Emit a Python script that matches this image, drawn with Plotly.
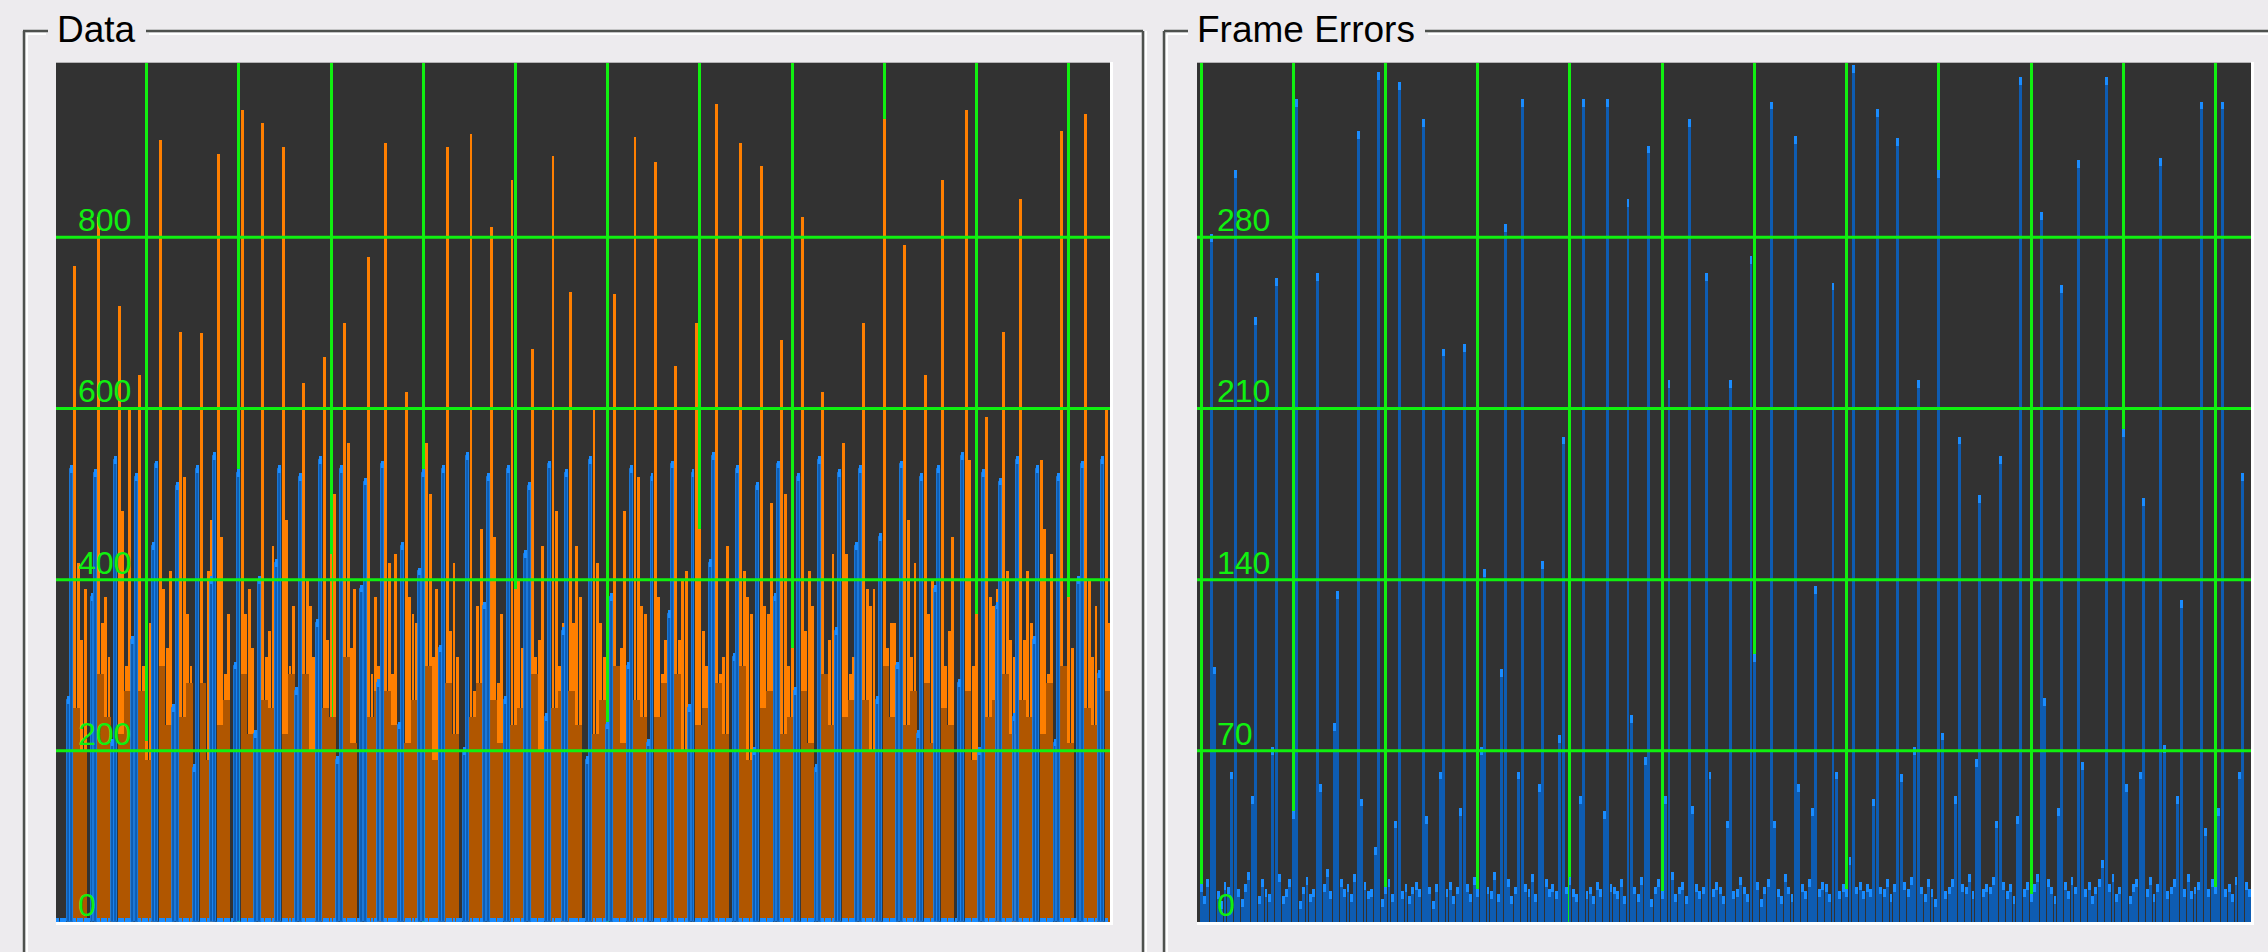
import plotly.graph_objects as go

W, H = 2268, 952

# ======================= data =======================
data_yticks = [0, 200, 400, 600, 800]
fe_yticks = [0, 70, 140, 210, 280]
n_samples = 309

# ---- "Data" panel, one entry per frame ----
data_pos = [6, 13, 19, 25, 31, 37, 43, 48, 55, 61, 67, 73, 79, 85, 92, 97, 103, 109, 115, 122,
            128, 134, 140, 146, 151, 158, 164, 170, 176, 182, 188, 194, 201, 207, 213, 219, 225,
            231, 237, 243, 249, 255, 260, 267, 273, 278, 283, 289, 295, 302, 308]
data_orange_tall = [767, 824, 720, 640, 914, 690, 688, 898, 949, 934, 906, 630, 660, 700, 777,
                    910, 620, 560, 906, 921, 812, 867, 670, 895, 737, 600, 734, 917, 888, 650,
                    700, 956, 911, 884, 680, 824, 620, 560, 700, 938, 791, 640, 867, 949, 590,
                    690, 845, 540, 924, 945, 600]
data_orange_mid_a = [420, 350, 480, 300, 390, 520, 280, 450, 360, 310, 470, 400, 330, 560, 290,
                     420, 380, 500, 340, 270, 450, 390, 310, 480, 350, 420, 300, 520, 380, 330,
                     460, 290, 410, 370, 500, 340, 280, 430, 390, 320, 470, 360, 300, 540, 380,
                     410, 330, 460, 290, 400, 350]
data_orange_mid_b = [330, 380, 300, 212, 320, 360, 410, 290, 390, 340, 300, 370, 430, 320, 380,
                     290, 360, 310, 420, 370, 280, 400, 330, 300, 440, 350, 320, 370, 290, 400,
                     340, 310, 380, 360, 300, 410, 330, 290, 370, 350, 310, 400, 340, 300, 370,
                     330, 410, 290, 380, 310, 350]
data_orange_mid_c = [390, 310, 600, 350, 410, 300, 470, 360, 320, 440, 370, 310, 500, 390, 300,
                     430, 350, 390, 310, 460, 360, 320, 440, 350, 380, 310, 480, 360, 330, 410,
                     300, 440, 360, 490, 320, 370, 430, 310, 390, 350, 420, 310, 450, 360, 390,
                     310, 350, 430, 320, 370, 350]
data_body_1 = [250, 290, 220, 270, 300, 240, 280, 230, 290, 260, 220, 290, 250, 310, 240, 270,
               210, 300, 280, 240, 260, 230, 290, 250, 270, 220, 300, 260, 240, 290, 230, 280,
               300, 250, 220, 270, 290, 240, 260, 300, 230, 280, 250, 270, 240, 290, 260, 220,
               300, 250, 270]
data_body_2 = [200, 240, 270, 190, 230, 280, 190, 260, 220, 250, 290, 200, 240, 210, 270, 230,
               260, 190, 220, 280, 210, 250, 200, 270, 230, 260, 210, 240, 280, 200, 250, 220,
               190, 270, 240, 210, 230, 260, 200, 240, 270, 210, 230, 190, 260, 220, 240, 280,
               210, 230, 250]
data_blue_tall = [530, 525, 540, 520, 535, 510, 530, 545, 525, 400, 530, 520, 540, 530, 515, 535,
                  440, 525, 530, 545, 520, 530, 510, 535, 525, 540, 380, 530, 520, 535, 525, 545,
                  530, 510, 535, 520, 540, 525, 530, 450, 535, 520, 530, 545, 525, 515, 540, 530,
                  520, 535, 540]
data_blue_second = [260, 380, 210, 330, 440, 250, 180, 400, 300, 220, 420, 270, 350, 190, 390,
                    280, 230, 410, 320, 200, 370, 260, 430, 240, 340, 190, 230, 300, 210, 360,
                    250, 420, 310, 200, 380, 270, 180, 340, 440, 260, 300, 220, 390, 280, 200,
                    370, 240, 330, 210, 400, 290]

# ---- "Frame Errors" panel ----
fe_pos = [3, 10, 16, 22, 28, 34, 40, 46, 52, 58, 65, 71, 77, 83, 89, 94, 100, 106, 112, 119,
          125, 131, 137, 143, 148, 155, 161, 167, 174, 180, 185, 191, 198, 204, 210, 216, 222,
          228, 234, 240, 246, 252, 257, 265, 270, 276, 281, 287, 293, 299, 305]
fe_tall = [280, 306, 246, 262, 335, 264, 134, 322, 346, 342, 327, 233, 235, 143, 284, 335, 146,
           197, 335, 335, 294, 316, 220, 327, 264, 220, 271, 334, 320, 136, 260, 349, 331, 319,
           220, 306, 197, 173, 189, 344, 289, 259, 310, 344, 200, 172, 311, 130, 334, 334, 182]
fe_second_pos = [4, 9, 15, 21, 27, 35, 39, 47, 51, 57, 66, 70, 76, 82, 88, 93, 99, 105, 111, 118,
                 126, 130, 136, 144, 149, 154, 162, 168, 175, 179, 186, 190, 197, 205, 209, 217,
                 221, 227, 233, 239, 247, 251, 258, 264, 271, 275, 282, 286, 294, 298, 304]
fe_second = [103, 60, 50, 70, 44, 55, 80, 49, 29, 40, 42, 60, 45, 70, 102, 60, 55, 75, 50, 44,
             83, 66, 50, 46, 60, 40, 108, 40, 55, 45, 60, 25, 49, 59, 70, 76, 50, 65, 40, 42,
             90, 45, 64, 24, 55, 60, 71, 50, 37, 45, 60]
fe_noise = [
    14, 9, 16, 12, 18, 11, 7, 15, 13, 10, 17, 12, 8, 14, 19, 11, 13, 9, 16, 12,
    10, 15, 13, 18, 9, 12, 16, 11, 14, 7, 13, 17, 10, 12, 15, 9, 14, 20, 11, 13,
    8, 16, 12, 14, 10, 18, 13, 9, 15, 11, 12, 17, 14, 8, 13, 16, 10, 12, 19, 11,
    14, 9, 13, 15, 12, 10, 16, 13, 7, 14, 11, 18, 12, 15, 9, 13, 16, 11, 14, 10,
    17, 12, 8, 15, 13, 11, 19, 10, 14, 12, 16, 9, 13, 15, 11, 14, 12, 18, 10, 13,
    9, 16, 12, 14, 11, 15, 8, 13, 17, 12, 10, 14, 16, 11, 13, 9, 15, 12, 18, 10,
    14, 13, 11, 16, 9, 12, 15, 13, 10, 17, 12, 14, 8, 13, 16, 11, 14, 12, 19, 10,
    13, 15, 9, 12, 16, 14, 11, 13, 18, 10, 12, 15, 13, 9, 14, 16, 11, 12, 17, 13,
    10, 14, 12, 15, 8, 13, 16, 11, 14, 12, 9, 18, 13, 10, 15, 12, 14, 11, 16, 13,
    9, 12, 15, 14, 10, 17, 13, 11, 14, 12, 16, 9, 13, 15, 11, 14, 12, 10, 18, 13,
    12, 16, 10, 14, 13, 9, 15, 12, 17, 11, 14, 13, 10, 16, 12, 8, 14, 15, 11, 13,
    16, 12, 10, 14, 13, 18, 11, 9, 15, 12, 14, 13, 17, 10, 12, 15, 11, 14, 9, 16,
    13, 12, 15, 10, 14, 18, 12, 11, 16, 13, 9, 14, 12, 15, 11, 17, 13, 10, 14, 12,
    15, 9, 13, 16, 12, 11, 14, 18, 10, 13, 15, 12, 9, 14, 16, 11, 13, 12, 17, 10,
    14, 12, 15, 11, 13, 16, 9, 14, 12, 18, 11, 13, 15, 10, 14, 12, 16, 13, 11, 15,
    12, 14, 10, 17, 13, 9, 15, 12, 14]

# ======================= style =======================
BG = "#edebee"
PLOT_BG = "#323232"
GRID = "#10f010"
ORANGE = "#ff7f00"
ORANGE_DARK = "#b05600"
BLUE = "#1a8cff"
BLUE_DARK = "#0e5cb2"
FRAME_DARK = "#4e514e"
STEM_W = 0.85
TIP_L = 9.0      # data-panel units
TIP_R = 3.2      # frame-error-panel units

fig = go.Figure()

# ---------- Data panel ----------
ox, oy = [], []
for p, t, a, b, c in zip(data_pos, data_orange_tall, data_orange_mid_a,
                         data_orange_mid_b, data_orange_mid_c):
    ox += [p, p + 1, p + 2, p + 3]
    oy += [t, a, b, c]
fig.add_trace(go.Bar(x=ox, y=oy, width=STEM_W, marker=dict(color=ORANGE, line_width=0),
                     xaxis="x", yaxis="y"))
bx, by = [], []
for p, b1, b2 in zip(data_pos, data_body_1, data_body_2):
    bx += [p + 0.5, p + 2.5]
    by += [b1, b2]
fig.add_trace(go.Bar(x=bx, y=by, width=2.0, marker=dict(color=ORANGE_DARK, line_width=0),
                     xaxis="x", yaxis="y"))

blue_vals = [0] * n_samples
for p, v in zip(data_pos, data_blue_second):
    if 0 <= p - 2 < n_samples:
        blue_vals[p - 2] = v
for p, v in zip(data_pos, data_blue_tall):
    if 0 <= p - 1 < n_samples:
        blue_vals[p - 1] = v
sx = list(range(n_samples))
fig.add_trace(go.Bar(x=sx, y=blue_vals, width=STEM_W,
                     marker=dict(color=BLUE_DARK, line=dict(color=BLUE, width=0.8)),
                     xaxis="x", yaxis="y"))
fig.add_trace(go.Bar(x=sx, y=[TIP_L] * n_samples, base=[v - TIP_L / 2 for v in blue_vals],
                     width=STEM_W, marker=dict(color=BLUE, line_width=0), xaxis="x", yaxis="y"))

# ---------- Frame Errors panel ----------
fe_vals = list(fe_noise)
for p, v in zip(fe_second_pos, fe_second):
    if 0 <= p < len(fe_vals):
        fe_vals[p] = max(fe_vals[p], v)
for p, v in zip(fe_pos, fe_tall):
    if 0 <= p < len(fe_vals):
        fe_vals[p] = max(fe_vals[p], v)
fx = list(range(len(fe_vals)))
fig.add_trace(go.Bar(x=fx, y=fe_vals, width=STEM_W, marker=dict(color=BLUE_DARK, line_width=0),
                     xaxis="x2", yaxis="y2"))
fig.add_trace(go.Bar(x=fx, y=[TIP_R] * len(fe_vals), base=[v - TIP_R / 2 for v in fe_vals],
                     width=STEM_W, marker=dict(color=BLUE, line_width=0), xaxis="x2", yaxis="y2"))

# ======================= layout =======================
px_x = lambda p: p / W
px_y = lambda p: 1 - p / H

ydom = [px_y(922), px_y(62.7)]
common_x = dict(showgrid=True, gridcolor=GRID, gridwidth=3, showticklabels=False,
                zeroline=False, showline=False, ticks="", tick0=0, dtick=27, fixedrange=True)
common_y = dict(showgrid=False, showticklabels=False, zeroline=False, showline=False,
                ticks="", fixedrange=True)

fig.update_layout(
    width=W, height=H, margin=dict(l=0, r=0, t=0, b=0, pad=0),
    paper_bgcolor=BG, plot_bgcolor=PLOT_BG, showlegend=False,
    barmode="overlay", bargap=0,
    xaxis=dict(domain=[px_x(56), px_x(1110)], range=[0.47, 309.1], anchor="y", **common_x),
    yaxis=dict(domain=ydom, range=[0, 1004], anchor="x", **common_y),
    xaxis2=dict(domain=[px_x(1197), px_x(2251)], range=[-1.2, 307.4], anchor="y2", **common_x),
    yaxis2=dict(domain=ydom, range=[0, 351.4], anchor="x2", **common_y),
)

shapes = []
for t in data_yticks[1:]:
    shapes.append(dict(type="line", xref="x domain", yref="y", x0=0, x1=1, y0=t, y1=t,
                       line=dict(color=GRID, width=3), layer="above"))
for t in fe_yticks[1:]:
    shapes.append(dict(type="line", xref="x2 domain", yref="y2", x0=0, x1=1, y0=t, y1=t,
                       line=dict(color=GRID, width=3), layer="above"))


def pline(x0, y0, x1, y1, color, width):
    shapes.append(dict(type="line", xref="paper", yref="paper",
                       x0=px_x(x0), y0=px_y(y0), x1=px_x(x1), y1=px_y(y1),
                       line=dict(color=color, width=width), layer="below"))


for (a, b) in [(23, 48), (146, 1143)]:
    pline(a, 31, b, 31, FRAME_DARK, 2.5)
    pline(a + 3, 34, b - 2, 34, "#ffffff", 2)
pline(24, 31, 24, 960, FRAME_DARK, 2.5)
pline(27, 34, 27, 960, "#ffffff", 2)
pline(1143, 31, 1143, 960, FRAME_DARK, 2.5)
pline(1146, 31, 1146, 960, "#ffffff", 2)
for (a, b) in [(1164, 1188), (1425, 2280)]:
    pline(a, 31, b, 31, FRAME_DARK, 2.5)
    pline(a + 3, 34, b, 34, "#ffffff", 2)
pline(1164, 31, 1164, 960, FRAME_DARK, 2.5)
pline(1167, 34, 1167, 960, "#ffffff", 2)
for (l, r) in [(56, 1110), (1197, 2251)]:
    pline(r + 1.5, 62, r + 1.5, 924.5, "#ffffff", 3)
    pline(l, 923.5, r + 3, 923.5, "#ffffff", 3)

fig.update_layout(shapes=shapes)

ann = []
for t in data_yticks:
    ann.append(dict(xref="x domain", yref="y", x=0.019, y=t, text=str(t), showarrow=False,
                    xanchor="left", yanchor="bottom", yshift=-3,
                    font=dict(family="Liberation Sans", size=32, color=GRID)))
for t in fe_yticks:
    ann.append(dict(xref="x2 domain", yref="y2", x=0.017, y=t, text=str(t), showarrow=False,
                    xanchor="left", yanchor="bottom", yshift=-3,
                    font=dict(family="Liberation Sans", size=32, color=GRID)))
ann.append(dict(xref="paper", yref="paper", x=px_x(55), y=px_y(29), text="Data", showarrow=False,
                xanchor="left", yanchor="middle",
                font=dict(family="Liberation Sans", size=37, color="#000000")))
ann.append(dict(xref="paper", yref="paper", x=px_x(1195), y=px_y(29), text="Frame Errors",
                showarrow=False, xanchor="left", yanchor="middle",
                font=dict(family="Liberation Sans", size=37, color="#000000")))
fig.update_layout(annotations=ann)

fig.write_html("out.html")
